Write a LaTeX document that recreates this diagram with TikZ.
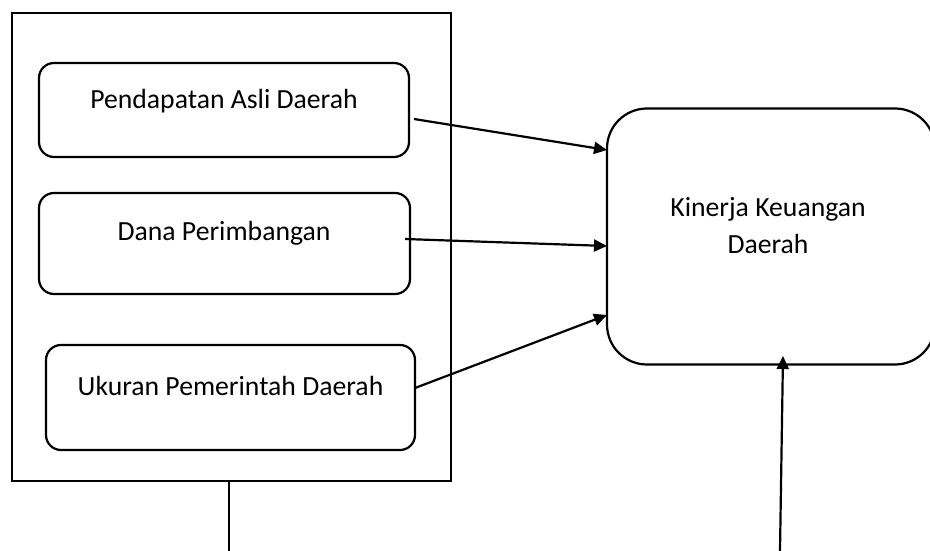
\documentclass[tikz,border=0pt]{standalone}
\usepackage{fontspec}
\setmainfont{Carlito}
\usetikzlibrary{arrows.meta}
\begin{document}
\begin{tikzpicture}[x=1pt,y=-1pt,
  boxline/.style={draw=black,line width=2.2pt},
  smallbox/.style={boxline,rounded corners=15pt,minimum width=370pt,minimum height=94pt,inner sep=0pt},
  lbl/.style={font=\fontsize{27.7}{37}\selectfont,inner sep=0pt,align=center},
  arr/.style={line width=2.2pt,-{Triangle[length=13pt,width=12pt]}}]
\clip (0,0) rectangle (930,551);
\useasboundingbox (0,0) rectangle (930,551);
% outer frame
\node[boxline,minimum width=439pt,minimum height=468pt,inner sep=0pt] (outer) at (231.5,247) {};
% inner boxes
\node[smallbox] (b1) at (224,110) {};
\node[smallbox,minimum width=371pt,minimum height=101pt] (b2) at (224.5,243.5) {};
\node[smallbox,minimum width=369pt,minimum height=105pt] (b3) at (230.5,397.5) {};
\node[lbl] (t1) at (224,101) {Pendapatan Asli Daerah};
\node[lbl] (t2) at (224,233) {Dana Perimbangan};
\node[lbl] (t3) at (230.5,386) {Ukuran Pemerintah Daerah};
% target box
\node[boxline,rounded corners=40pt,minimum width=328pt,minimum height=256pt,inner sep=0pt] (kk) at (771,236.5) {};
\node[lbl] (tk) at (768,226) {Kinerja Keuangan\\Daerah};
% connector points
\coordinate (s1) at (414,119);
\coordinate (e1) at (607,150);
\coordinate (s2) at (405,239);
\coordinate (e2) at (607,246);
\coordinate (s3) at (415,388);
\coordinate (e3) at (607,315);
\coordinate (s4) at (780,551);
\coordinate (e4) at (783,356);
\coordinate (s5) at (229,481);
\coordinate (e5) at (229,551);
\draw[arr] (s1) -- (e1);
\draw[arr] (s2) -- (e2);
\draw[arr] (s3) -- (e3);
\draw[arr] (s4) -- (e4);
\draw[line width=2.2pt] (s5) -- (e5);
\end{tikzpicture}
\end{document}
